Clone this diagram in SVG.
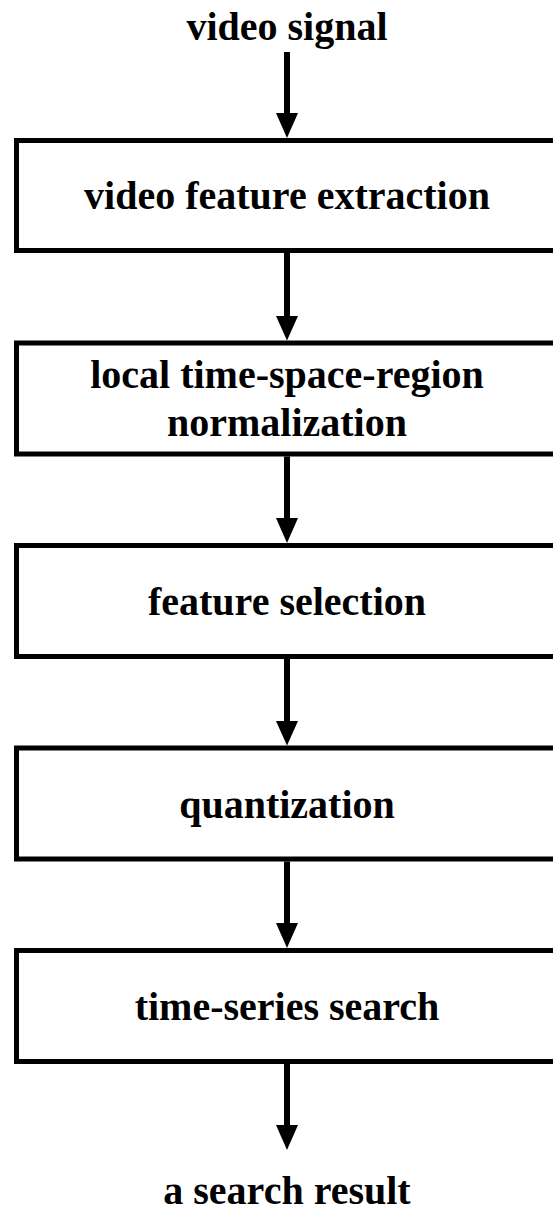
<svg xmlns="http://www.w3.org/2000/svg" width="553" height="1216" viewBox="0 0 553 1216">
<defs>
<style>
.box{fill:#fff;stroke:#000;stroke-width:5}
.lbl{font-family:"Liberation Serif","Times New Roman",serif;font-weight:bold;font-size:40px;fill:#000;text-anchor:middle}
.edge{stroke:#000;stroke-width:6;fill:none}
.head{fill:#000}
</style>
</defs>
<rect width="553" height="1216" fill="#fff"/>
<g id="input"><text class="lbl" x="287" y="40">video signal</text></g>
<g id="n1"><rect class="box" x="16.5" y="140.5" width="541" height="110"/><text class="lbl" x="287" y="209">video feature extraction</text></g>
<g id="n2"><rect class="box" x="16.5" y="343" width="541" height="111"/><text class="lbl" x="287" y="388">local time-space-region</text><text class="lbl" x="287" y="436">normalization</text></g>
<g id="n3"><rect class="box" x="16.5" y="545.5" width="541" height="111"/><text class="lbl" x="287" y="615">feature selection</text></g>
<g id="n4"><rect class="box" x="16.5" y="748" width="541" height="111"/><text class="lbl" x="287" y="818">quantization</text></g>
<g id="n5"><rect class="box" x="16.5" y="950.5" width="541" height="111"/><text class="lbl" x="287" y="1020">time-series search</text></g>
<g id="output"><text class="lbl" x="287" y="1204">a search result</text></g>
<g id="connectors">
<line class="edge" x1="287" y1="52" x2="287" y2="115"/><polygon class="head" points="276,113 298,113 287,138"/>
<line class="edge" x1="287" y1="253" x2="287" y2="318"/><polygon class="head" points="276,316 298,316 287,340.5"/>
<line class="edge" x1="287" y1="456.5" x2="287" y2="520"/><polygon class="head" points="276,518 298,518 287,543"/>
<line class="edge" x1="287" y1="659" x2="287" y2="723"/><polygon class="head" points="276,721 298,721 287,745.5"/>
<line class="edge" x1="287" y1="861.5" x2="287" y2="925"/><polygon class="head" points="276,923 298,923 287,948"/>
<line class="edge" x1="287" y1="1064" x2="287" y2="1127"/><polygon class="head" points="276,1125 298,1125 287,1150"/>
</g>
</svg>
